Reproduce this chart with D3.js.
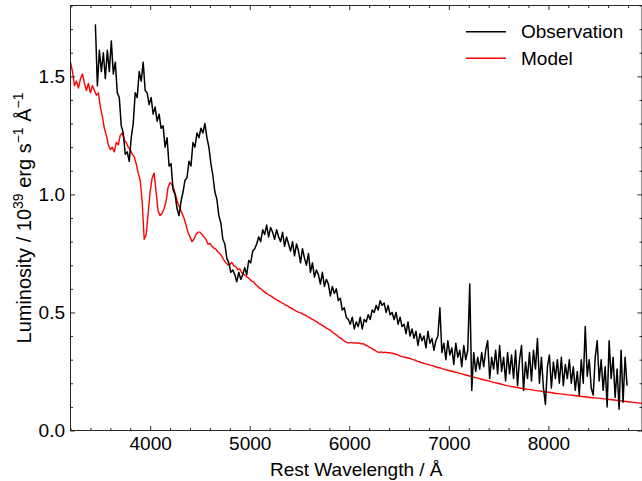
<!DOCTYPE html>
<html>
<head>
<meta charset="utf-8">
<script src="https://cdn.jsdelivr.net/npm/d3@7"></script>
<style>
  html, body { margin: 0; padding: 0; background: #fff; }
  svg { display: block; font-family: "Liberation Sans", Arial, sans-serif; }
</style>
</head>
<body>
<svg id="chart" width="642" height="481"></svg>
<script>
// Observed spectrum: luminosity (1e39 erg/s/Å) sampled every 20 Å from 3450 Å
const obsStart = 3450;
const obsStep = 20;
const obsLum = [
  1.72,1.46,1.61,1.52,1.60,1.49,1.61,1.52,1.65,1.51, // 3450
  1.56,1.43,1.41,1.29,1.26,1.17,1.18,1.14,1.24,1.30, // 3650
  1.43,1.41,1.52,1.48,1.56,1.44,1.43,1.38,1.41,1.34, // 3850
  1.37,1.31,1.34,1.28,1.29,1.20,1.24,1.12,1.13,1.02, // 4050
  1.00,0.94,0.91,0.97,1.01,1.06,1.07,1.14,1.12,1.22, // 4250
  1.20,1.26,1.24,1.28,1.26,1.30,1.24,1.20,1.13,1.08, // 4450
  1.01,0.98,0.91,0.88,0.81,0.79,0.73,0.71,0.67,0.68, // 4650
  0.66,0.63,0.67,0.64,0.66,0.69,0.66,0.72,0.71,0.76, // 4850
  0.77,0.79,0.82,0.80,0.85,0.83,0.87,0.82,0.86,0.84, // 5050
  0.81,0.85,0.82,0.80,0.84,0.78,0.82,0.79,0.76,0.80, // 5250
  0.74,0.79,0.76,0.71,0.77,0.73,0.70,0.75,0.67,0.71, // 5450
  0.65,0.68,0.66,0.62,0.67,0.61,0.64,0.62,0.57,0.61, // 5650
  0.58,0.60,0.55,0.56,0.51,0.52,0.48,0.47,0.45,0.48, // 5850
  0.43,0.46,0.44,0.48,0.43,0.47,0.46,0.49,0.47,0.51, // 6050
  0.50,0.53,0.51,0.55,0.53,0.54,0.50,0.53,0.49,0.50, // 6250
  0.47,0.50,0.45,0.48,0.44,0.45,0.41,0.46,0.40,0.43, // 6450
  0.39,0.42,0.36,0.41,0.38,0.40,0.35,0.42,0.37,0.39, // 6650
  0.34,0.38,0.40,0.52,0.33,0.37,0.30,0.38,0.32,0.35, // 6850
  0.28,0.37,0.31,0.34,0.27,0.36,0.30,0.34,0.62,0.17, // 7050
  0.33,0.25,0.31,0.26,0.33,0.27,0.34,0.38,0.22,0.31, // 7250
  0.26,0.34,0.24,0.36,0.25,0.31,0.21,0.33,0.24,0.32, // 7450
  0.22,0.34,0.19,0.30,0.36,0.17,0.29,0.22,0.33,0.21, // 7650
  0.34,0.26,0.39,0.20,0.31,0.18,0.11,0.27,0.32,0.18, // 7850
  0.29,0.22,0.30,0.20,0.31,0.19,0.28,0.22,0.30,0.20, // 8050
  0.27,0.17,0.25,0.15,0.30,0.20,0.44,0.23,0.30,0.18, // 8250
  0.15,0.31,0.38,0.21,0.30,0.17,0.27,0.10,0.38,0.22, // 8450
  0.31,0.14,0.26,0.09,0.34,0.12,0.31,0.19            // 8650
];

// Model spectrum sampled every 20 Å from 3200 Å
const modelStart = 3200;
const modelStep = 20;
const modelLum = [
  1.56,1.52,1.46,1.48,1.45,1.49,1.51,1.47,1.44,1.47, // 3200
  1.43,1.46,1.44,1.42,1.43,1.37,1.33,1.28,1.25,1.21, // 3400
  1.19,1.20,1.18,1.22,1.21,1.25,1.26,1.23,1.22,1.20, // 3600
  1.19,1.17,1.16,1.13,1.09,1.06,0.97,0.81,0.83,0.92, // 3800
  1.01,1.07,1.09,1.01,0.93,0.91,0.92,0.94,0.97,1.03, // 4000
  1.05,1.04,1.02,0.99,0.96,0.94,0.92,0.90,0.87,0.84, // 4200
  0.82,0.80,0.81,0.83,0.84,0.84,0.83,0.82,0.81,0.79, // 4400
  0.792,0.781,0.772,0.768,0.757,0.749,0.738,0.722,0.711,0.702, // 4600
  0.703,0.712,0.698,0.694,0.681,0.685,0.668,0.662,0.655,0.648, // 4800
  0.641,0.633,0.629,0.618,0.611,0.603,0.598,0.589,0.583,0.577, // 5000
  0.572,0.568,0.561,0.557,0.551,0.547,0.541,0.537,0.531,0.528, // 5200
  0.521,0.518,0.512,0.508,0.503,0.499,0.497,0.491,0.488,0.482, // 5400
  0.479,0.473,0.469,0.463,0.459,0.452,0.448,0.442,0.437,0.431, // 5600
  0.427,0.421,0.413,0.408,0.401,0.394,0.389,0.382,0.376,0.372, // 5800
  0.371,0.373,0.370,0.372,0.369,0.371,0.367,0.368,0.362,0.359, // 6000
  0.353,0.349,0.344,0.339,0.333,0.331,0.333,0.330,0.332,0.329, // 6200
  0.330,0.328,0.327,0.324,0.321,0.318,0.314,0.312,0.310,0.308, // 6400
  0.306,0.303,0.300,0.298,0.294,0.292,0.288,0.286,0.283,0.281, // 6600
  0.279,0.276,0.274,0.271,0.268,0.266,0.264,0.261,0.259,0.256, // 6800
  0.254,0.252,0.250,0.248,0.246,0.243,0.241,0.239,0.236,0.234, // 7000
  0.232,0.229,0.227,0.225,0.223,0.221,0.218,0.216,0.214,0.212, // 7200
  0.210,0.208,0.205,0.203,0.201,0.199,0.197,0.195,0.192,0.190, // 7400
  0.189,0.187,0.185,0.184,0.182,0.181,0.179,0.178,0.177,0.175, // 7600
  0.174,0.173,0.172,0.170,0.169,0.168,0.167,0.165,0.164,0.163, // 7800
  0.162,0.161,0.160,0.158,0.157,0.156,0.155,0.154,0.153,0.152, // 8000
  0.151,0.150,0.149,0.148,0.147,0.146,0.145,0.144,0.143,0.142, // 8200
  0.141,0.140,0.139,0.138,0.137,0.137,0.136,0.135,0.134,0.133, // 8400
  0.132,0.131,0.130,0.129,0.128,0.127,0.126,0.125,0.124,0.123, // 8600
  0.122,0.121,0.120,0.119,0.118,0.117,0.116,0.115              // 8800
];

const xMajorTicks = [4000, 5000, 6000, 7000, 8000];
const yMajorTicks = [0.0, 0.5, 1.0, 1.5];
const seriesNames = ["Observation", "Model"];
const seriesColors = ["#000000", "#ff0000"];

const svg = d3.select("#chart");
const plotLeft = 70.5, plotRight = 642, plotTop = 5.5, plotBottom = 430.5;

const x = d3.scaleLinear().domain([3200, 8940]).range([plotLeft, plotRight]);
const y = d3.scaleLinear().domain([0, 1.8]).range([plotBottom, plotTop]);

const obsData = obsLum.map((v, i) => [obsStart + i * obsStep, v]);
const modelData = modelLum.map((v, i) => [modelStart + i * modelStep, v]);

svg.append("defs").append("clipPath").attr("id", "plot-clip")
  .append("rect").attr("x", plotLeft).attr("y", plotTop)
  .attr("width", plotRight - plotLeft).attr("height", plotBottom - plotTop);

const line = d3.line().x(d => x(d[0])).y(d => y(d[1]));
const plot = svg.append("g").attr("clip-path", "url(#plot-clip)");

plot.append("path").datum(modelData)
  .attr("fill", "none").attr("stroke", seriesColors[1])
  .attr("stroke-width", 1.4).attr("stroke-linejoin", "round")
  .attr("d", line);
plot.append("path").datum(obsData)
  .attr("fill", "none").attr("stroke", seriesColors[0])
  .attr("stroke-width", 1.5).attr("stroke-linejoin", "round")
  .attr("d", line);

// Minor tick positions
const xMinor = d3.range(3200, 8941, 200).filter(v => v % 1000 !== 0);
const yMinor = d3.range(0, 18.01, 1).map(v => v / 10).filter(v => Math.round(v * 10) % 5 !== 0);

const axisColor = "#262626";
function styleAxis(g) {
  g.select(".domain").remove();
  g.selectAll(".tick line").attr("stroke", axisColor).attr("stroke-width", 1);
  g.selectAll(".tick text").attr("fill", "#000").attr("font-size", 19);
}

// Bottom
svg.append("g").attr("transform", `translate(0,${plotBottom})`)
  .call(d3.axisBottom(x).tickValues(xMajorTicks).tickSize(-4.5).tickPadding(6).tickFormat(d3.format("d")))
  .call(styleAxis);
svg.append("g").attr("transform", `translate(0,${plotBottom})`)
  .call(d3.axisBottom(x).tickValues(xMinor).tickSize(-2.5).tickFormat(""))
  .call(styleAxis);
// Top
svg.append("g").attr("transform", `translate(0,${plotTop})`)
  .call(d3.axisTop(x).tickValues(xMajorTicks).tickSize(-4.5).tickFormat(""))
  .call(styleAxis);
svg.append("g").attr("transform", `translate(0,${plotTop})`)
  .call(d3.axisTop(x).tickValues(xMinor).tickSize(-2.5).tickFormat(""))
  .call(styleAxis);
// Left
svg.append("g").attr("transform", `translate(${plotLeft},0)`)
  .call(d3.axisLeft(y).tickValues(yMajorTicks).tickSize(-4.5).tickPadding(5.5).tickFormat(d3.format(".1f")))
  .call(styleAxis);
svg.append("g").attr("transform", `translate(${plotLeft},0)`)
  .call(d3.axisLeft(y).tickValues(yMinor).tickSize(-2.5).tickFormat(""))
  .call(styleAxis);
// Right
svg.append("g").attr("transform", `translate(${plotRight},0)`)
  .call(d3.axisRight(y).tickValues(yMajorTicks).tickSize(-4.5).tickFormat(""))
  .call(styleAxis);
svg.append("g").attr("transform", `translate(${plotRight},0)`)
  .call(d3.axisRight(y).tickValues(yMinor).tickSize(-2.5).tickFormat(""))
  .call(styleAxis);

// Frame
svg.append("rect").attr("x", plotLeft).attr("y", plotTop)
  .attr("width", plotRight - plotLeft).attr("height", plotBottom - plotTop)
  .attr("fill", "none").attr("stroke", axisColor).attr("stroke-width", 1);

// Axis titles
svg.append("text").attr("x", (plotLeft + plotRight) / 2).attr("y", 476)
  .attr("text-anchor", "middle").attr("font-size", 19).attr("fill", "#000")
  .text("Rest Wavelength / Å");

const yt = svg.append("text")
  .attr("transform", `translate(31,${(plotTop + plotBottom) / 2}) rotate(-90)`)
  .attr("text-anchor", "middle").attr("font-size", 20).attr("fill", "#000");
yt.append("tspan").text("Luminosity / 10");
yt.append("tspan").attr("font-size", 14).attr("dy", -8).text("39");
yt.append("tspan").attr("dy", 8).text(" erg s");
yt.append("tspan").attr("font-size", 14).attr("dy", -8).text("−1");
yt.append("tspan").attr("dy", 8).text(" Å");
yt.append("tspan").attr("font-size", 14).attr("dy", -8).text("−1");

// Legend
const legend = svg.append("g");
seriesNames.forEach((name, i) => {
  const ly = 31.7 + i * 26.6;
  legend.append("line").attr("x1", 466).attr("x2", 506)
    .attr("y1", ly).attr("y2", ly)
    .attr("stroke", seriesColors[i]).attr("stroke-width", 1.4);
  legend.append("text").attr("x", 521).attr("y", ly + 6.7)
    .attr("font-size", 19).attr("fill", "#000").text(name);
});
</script>
</body>
</html>
